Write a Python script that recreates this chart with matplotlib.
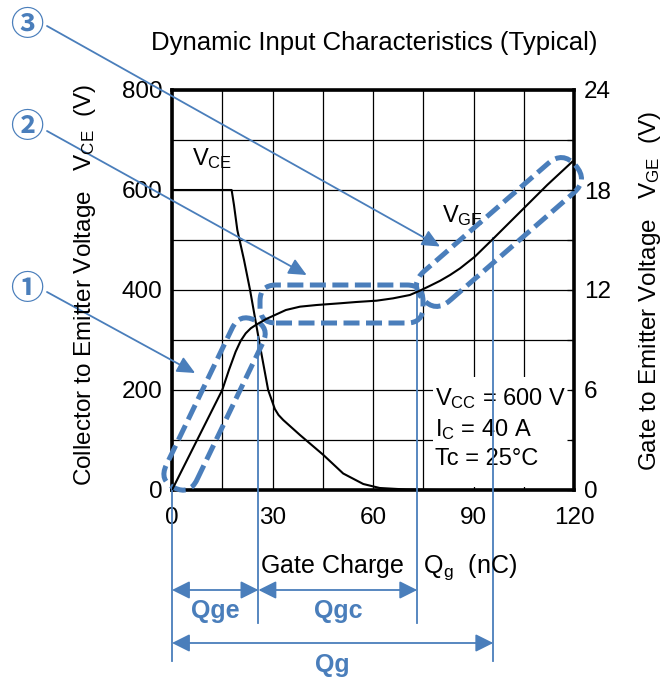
import numpy as np
import matplotlib
matplotlib.use("Agg")
import matplotlib.pyplot as plt
from matplotlib.patches import FancyBboxPatch, Rectangle, FancyArrowPatch
from matplotlib.transforms import Affine2D
from matplotlib.ticker import MultipleLocator

plt.rcParams["font.family"] = ["Liberation Sans", "DejaVu Sans"]
plt.rcParams["mathtext.fontset"] = "custom"
plt.rcParams["mathtext.rm"] = "Liberation Sans"
plt.rcParams["mathtext.it"] = "Liberation Sans:italic"

# ---- data ----
qg_vce = [0, 17.8, 18.5, 19.5, 21.5, 23.3, 26.3, 28.7, 30.7, 31.8, 33.2, 38.2, 45.2, 51.1, 57.1, 62, 70, 80, 120]
vce = [600, 600, 570, 520, 460, 400, 287, 200, 162, 150, 140, 110, 70, 33, 12, 4, 1, 0, 0]

qg_vge = [0, 5, 10, 15, 17, 19, 20.5, 22, 23.5, 25, 26.3, 28, 30.2, 34, 38.2, 43.2, 50, 55, 61.1,
          66, 71.0, 74.0, 77, 80, 83, 86, 90.4, 96, 101, 106, 112, 119.5]
vge = [0, 2.0, 4.0, 6.0, 7.2, 8.3, 8.95, 9.4, 9.7, 9.9, 10.05, 10.25, 10.45, 10.8, 11.0, 11.1, 11.2, 11.28, 11.36,
       11.5, 11.7, 11.96, 12.25, 12.55, 12.9, 13.3, 14.0, 15.1, 16.1, 17.1, 18.3, 19.7]

# charge markers (nC): 0, Qge end, Qgc end, Qg
q_marks = [0, 25.8, 73.2, 95.9]
q_mark_top = [0, 306, 394, 504]          # where each marker leaves the curve (V, left axis)

BLUE = "#4a7ebb"

fig = plt.figure(figsize=(6.71, 6.79), dpi=100)
fig.patch.set_facecolor("white")
ax = fig.add_axes([172 / 671, 1 - 490 / 679, 402 / 671, 400 / 679])
ax2 = ax.twinx()

ax.set_xlim(0, 120)
ax.set_ylim(0, 800)
ax2.set_ylim(0, 24)

ax.xaxis.set_major_locator(MultipleLocator(30))
ax.xaxis.set_minor_locator(MultipleLocator(15))
ax.yaxis.set_major_locator(MultipleLocator(200))
ax.yaxis.set_minor_locator(MultipleLocator(100))
ax2.yaxis.set_major_locator(MultipleLocator(6))
ax2.yaxis.set_minor_locator(MultipleLocator(3))

ax.set_axisbelow(True)
ax.grid(which="both", color="black", lw=0.9)
ax.tick_params(which="both", length=0, labelsize=17.5)
ax.tick_params(axis="y", pad=7)
ax.tick_params(axis="x", pad=12)
ax2.tick_params(which="both", direction="in", length=5, width=0.9, labelsize=17.5, pad=7)
for s in ax.spines.values():
    s.set_linewidth(2.6)
for s in ax2.spines.values():
    s.set_visible(False)

# white label box hides the grid lower right
ax.add_patch(Rectangle((78, 6), 41, 220, facecolor="white", edgecolor="none", zorder=1))

ax.plot(qg_vce, vce, color="black", lw=1.5, zorder=3)
ax2.plot(qg_vge, vge, color="black", lw=1.5, zorder=3)

ax.text(5.9, 650, r"V$_{\mathrm{CE}}$", fontsize=17, zorder=4)
ax.text(80.5, 536, r"V$_{\mathrm{GE}}$", fontsize=17, zorder=4)
ax.text(78.5, 170, r"V$_{\mathrm{CC}}$ = 600 V", fontsize=17, zorder=4)
ax.text(78.5, 107, r"I$_{\mathrm{C}}$ = 40 A", fontsize=17, zorder=4)
ax.text(78.5, 50, "Tc = 25°C", fontsize=17, zorder=4)

# charge marker lines and arrows below the plot
bottoms = [-342, -266, -266, -342]
for q, top, bot in zip(q_marks, q_mark_top, bottoms):
    ax.plot([q, q], [top, bot], color=BLUE, lw=1.3, clip_on=False, zorder=4)

spans = [(q_marks[0], q_marks[1], -200, "Qge", -256),
         (q_marks[1], q_marks[2], -200, "Qgc", -256),
         (q_marks[0], q_marks[3], -306, "Qg", -364)]
for a, b, y, lab, ly in spans:
    ax.add_patch(FancyArrowPatch((a, y), (b, y), arrowstyle="<|-|>,head_length=0.9,head_width=0.45",
                                 mutation_scale=12, color=BLUE, lw=1.3, shrinkA=0, shrinkB=0,
                                 clip_on=False, zorder=4))
    ax.text((a + b) / 2, ly, lab, fontsize=18, fontweight="bold", color=BLUE, ha="center",
            va="baseline", fontstretch="condensed", family=["Liberation Sans Narrow", "Liberation Sans"])

# dashed regions: centre (nC, V), length px, width px, angle deg, corner px
regions = [((12.7, 172), 186, 34, 64.3, 17),
           ((50.6, 372), 163, 38, 0, 16),
           ((97.6, 516), 203, 39, 41, 19.5)]
for (cx, cy), L, W, ang, r in regions:
    px, py = ax.transData.transform((cx, cy))
    p = FancyBboxPatch((-L / 2, -W / 2), L, W, boxstyle=f"round,pad=0,rounding_size={r}",
                       transform=Affine2D().rotate_deg(ang).translate(px, py),
                       facecolor="none", edgecolor=BLUE, lw=3.6, linestyle=(0, (3.2, 1.3)),
                       clip_on=False, zorder=5)
    ax.add_patch(p)

# circled callouts
callouts = [("①", (27, 679 - 290), (47, 679 - 292), (6.9, 234)),
            ("②", (27, 679 - 127), (47, 679 - 131), (40.2, 430)),
            ("③", (27, 679 - 25), (47, 679 - 26), (80.0, 487))]
for lab, tpos, start, tip in callouts:
    fig.text(tpos[0] / 671, tpos[1] / 679, lab, fontsize=24, fontweight="bold", color=BLUE,
             ha="center", va="center", family=["Noto Sans CJK JP", "DejaVu Sans"])
    ax.annotate("", xy=tip, xycoords="data", xytext=start, textcoords="figure pixels",
                arrowprops=dict(arrowstyle="-|>,head_length=0.9,head_width=0.42", color=BLUE,
                                lw=1.3, mutation_scale=12, shrinkA=0, shrinkB=0),
                annotation_clip=False, zorder=5)

fig.text(374 / 671, 1 - 43 / 679, "Dynamic Input Characteristics (Typical)", fontsize=18.5,
         ha="center", va="center")
fig.text(85 / 671, 1 - 285 / 679, r"Collector to Emitter Voltage   V$_{\mathrm{CE}}$  (V)",
         fontsize=17.5, rotation=90, ha="center", va="center")
fig.text(650 / 671, 1 - 291 / 679, r"Gate to Emitter Voltage   V$_{\mathrm{GE}}$  (V)",
         fontsize=17.5, rotation=90, ha="center", va="center")
fig.text(260 / 671, 1 - 573 / 679, r"Gate Charge   Q$_{\mathrm{g}}$  (nC)", fontsize=18,
         ha="left", va="baseline")

fig.savefig("out.png", dpi=100, facecolor="white")
